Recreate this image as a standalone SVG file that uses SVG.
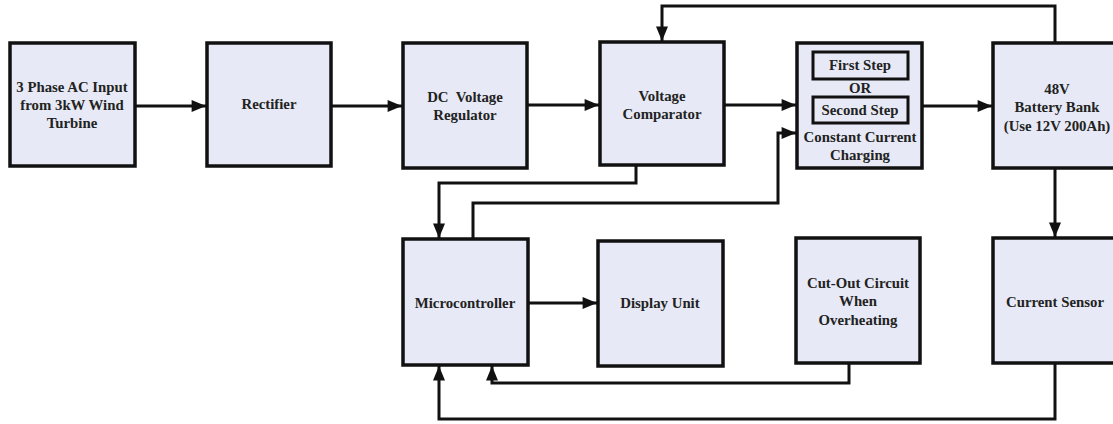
<svg xmlns="http://www.w3.org/2000/svg" width="1113" height="424" viewBox="0 0 1113 424">
<style>
.box{fill:#e7eaf6;stroke:#111;stroke-width:3.5}
.inner{fill:#e7eaf6;stroke:#111;stroke-width:3}
.t{font-family:"Liberation Serif","Times New Roman",serif;font-weight:bold;font-size:14.8px;fill:#222;text-anchor:middle;dominant-baseline:central}
.c{fill:none;stroke:#111;stroke-width:3;marker-end:url(#ah)}
</style>
<defs>
<marker id="ah" viewBox="0 0 12 10" refX="12" refY="5" markerWidth="5" markerHeight="4" orient="auto" markerUnits="strokeWidth">
<path d="M0,0 L12,5 L0,10 z" fill="#111"/>
</marker>
</defs>
<rect width="1113" height="424" fill="#fff"/>
<g id="input"><rect class="box" x="10" y="43" width="125" height="123"/>
<text class="t" x="72" y="87">3 Phase AC Input</text><text class="t" x="72" y="105">from 3kW Wind</text><text class="t" x="72" y="123">Turbine</text></g>
<g id="rectifier"><rect class="box" x="207" y="43" width="124" height="123"/>
<text class="t" x="269" y="104">Rectifier</text></g>
<g id="regulator"><rect class="box" x="403" y="43" width="124" height="125"/>
<text class="t" x="465" y="97" xml:space="preserve">DC  Voltage</text><text class="t" x="465" y="115">Regulator</text></g>
<g id="comparator"><rect class="box" x="600" y="42" width="124" height="123"/>
<text class="t" x="662" y="96">Voltage</text><text class="t" x="662" y="114">Comparator</text></g>
<g id="charging"><rect class="box" x="797" y="43" width="125" height="125"/>
<rect class="inner" x="813" y="52" width="95" height="27"/>
<text class="t" x="860" y="65">First Step</text>
<text class="t" x="860" y="88">OR</text>
<rect class="inner" x="813" y="97" width="95" height="26"/>
<text class="t" x="860" y="110">Second Step</text>
<text class="t" x="860" y="137">Constant Current</text><text class="t" x="860" y="155">Charging</text></g>
<g id="battery"><rect class="box" x="993" y="43" width="125" height="125"/>
<text class="t" x="1057" y="89">48V</text><text class="t" x="1057" y="107">Battery Bank</text><text class="t" x="1057" y="126">(Use 12V 200Ah)</text></g>
<g id="microcontroller"><rect class="box" x="403" y="239" width="125" height="126"/>
<text class="t" x="465" y="303">Microcontroller</text></g>
<g id="display"><rect class="box" x="598" y="241" width="125" height="125"/>
<text class="t" x="660" y="303">Display Unit</text></g>
<g id="cutout"><rect class="box" x="796" y="238" width="124" height="125"/>
<text class="t" x="858" y="283">Cut-Out Circuit</text><text class="t" x="858" y="301">When</text><text class="t" x="858" y="320">Overheating</text></g>
<g id="sensor"><rect class="box" x="993" y="238" width="125" height="125"/>
<text class="t" x="1055" y="302">Current Sensor</text></g>
<g id="connectors">
<path class="c" d="M135,106 H206"/>
<path class="c" d="M331,106 H402"/>
<path class="c" d="M527,105 H599"/>
<path class="c" d="M724,105 H796"/>
<path class="c" d="M922,106 H992"/>
<path class="c" d="M1055,43 V6 H662 V41"/>
<path class="c" d="M636,165 V183 H439 V238"/>
<path class="c" d="M473,239 V203 H778 V133 H796"/>
<path class="c" d="M1055,168 V237"/>
<path class="c" d="M528,303 H597"/>
<path class="c" d="M849,363 V383 H492 V366"/>
<path class="c" d="M1055,363 V419 H439 V366"/>
</g>
</svg>
